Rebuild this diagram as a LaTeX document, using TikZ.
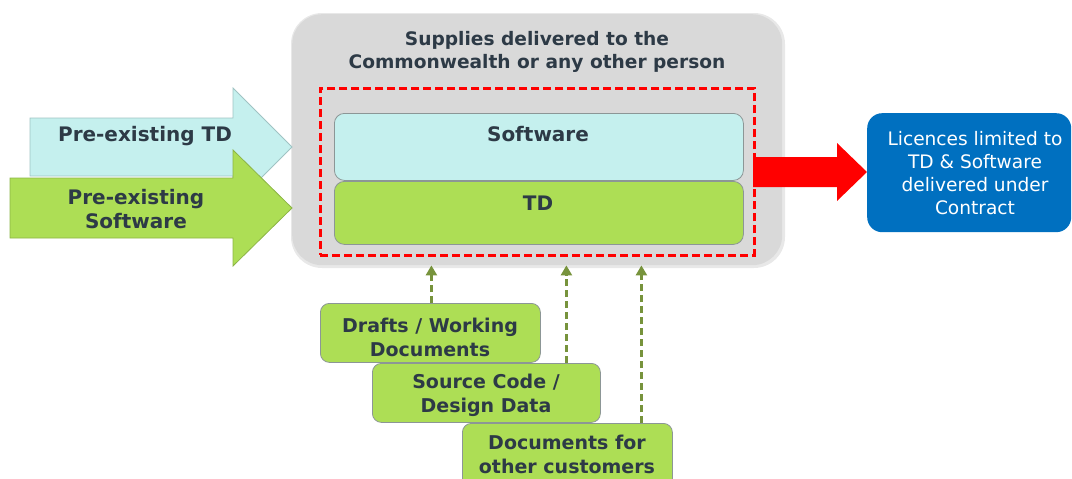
\documentclass[tikz,border=0pt]{standalone}
\usepackage{fontspec}
\setmainfont{DejaVu Sans}
\usetikzlibrary{arrows.meta}

\definecolor{txtdark}{RGB}{45,58,70}
\definecolor{panelgray}{RGB}{217,217,217}
\definecolor{panelshade}{RGB}{232,232,232}
\definecolor{swcyan}{RGB}{197,240,238}
\definecolor{tdgreen}{RGB}{173,222,85}
\definecolor{licblue}{RGB}{0,112,192}
\definecolor{olive}{RGB}{119,147,60}
\definecolor{edgegray}{RGB}{140,150,150}
\definecolor{cyanedge}{RGB}{160,195,195}
\definecolor{greenedge}{RGB}{140,180,70}

\tikzset{
  panel/.style={fill=panelgray, rounded corners=30pt, inner sep=0pt, anchor=north west},
  scopebox/.style={draw=red, line width=2.5pt, dash pattern=on 8pt off 4pt, inner sep=0pt, anchor=north west},
  layer/.style={draw=edgegray, line width=0.8pt, rounded corners=10pt, inner sep=0pt, anchor=north west},
  srcbox/.style={draw=edgegray, line width=0.8pt, fill=tdgreen, rounded corners=9pt, inner sep=0pt, anchor=north west},
  lbl/.style={text=txtdark, font=\bfseries\fontsize{19}{24}\selectfont, align=center, inner sep=0pt},
  biglbl/.style={text=txtdark, font=\bfseries\fontsize{20}{24}\selectfont, align=center, inner sep=0pt},
  lic/.style={fill=licblue, rounded corners=15pt, inner sep=0pt, anchor=north west},
  feed/.style={draw=olive, line width=3pt, dash pattern=on 7pt off 4pt, -{Triangle[length=10pt,width=11pt]}},
}

\begin{document}
\begin{tikzpicture}[x=1pt,y=-1pt]
\useasboundingbox (0,0) rectangle (1072,479);

% grey panel holding the supplies, with a faint edge shade
\fill[panelshade, rounded corners=31pt] (291,13) rectangle (785,268);
\node[panel, minimum width=490pt, minimum height=251pt] (supplies) at (292,14) {};
\node[lbl, font=\bfseries\fontsize{18.6}{23}\selectfont] (suptitle) at (537,51.5)
  {Supplies delivered to the\\Commonwealth or any other person};

% software and TD layers
\node[layer, fill=swcyan, minimum width=409pt, minimum height=67pt] (software) at (334,113) {};
\node[biglbl] (swlbl) at (538,134) {Software};
\node[layer, fill=tdgreen, minimum width=409pt, minimum height=63pt] (td) at (334,181) {};
\node[biglbl] (tdlbl) at (538,203) {TD};

% licence outcome arrow, starting at the delivered boundary
\fill[red] (753,157) -- (837,157) -- (837,143) -- (867,172) -- (837,201) -- (837,187) -- (753,187) -- cycle;

% dashed boundary of what is delivered
\node[scopebox, minimum width=434pt, minimum height=167pt] (delivered) at (319,87) {};

% incoming pre-existing material
\filldraw[fill=swcyan, draw=cyanedge, line width=0.8pt]
  (30,118) -- (233,118) -- (233,88) -- (292,147) -- (233,206) -- (233,176) -- (30,176) -- cycle;
\node[biglbl] (pretd) at (145,136) {Pre-existing TD};
\filldraw[fill=tdgreen, draw=greenedge, line width=0.8pt]
  (10,178) -- (233,178) -- (233,150) -- (292,208) -- (233,266) -- (233,238) -- (10,238) -- cycle;
\node[biglbl] (presw) at (136,209) {Pre-existing\\Software};

% licence box
\node[lic, minimum width=204pt, minimum height=119pt] (licence) at (867,113) {};
\node[text=white, font=\fontsize{18.6}{23}\selectfont, align=center, inner sep=0pt] (liclbl) at (975,173)
  {Licences limited to\\TD \& Software\\delivered under\\Contract};

% other material that is not delivered
\node[srcbox, minimum width=220pt, minimum height=59pt] (drafts) at (320,303) {};
\node[lbl] (draftslbl) at (430,337.5) {Drafts / Working\\Documents};
\node[srcbox, minimum width=228pt, minimum height=59pt] (source) at (372,363) {};
\node[lbl] (sourcelbl) at (486,395) {Source Code /\\Design Data};
\node[srcbox, minimum width=210pt, minimum height=70pt] (others) at (462,423) {};
\node[lbl] (otherslbl) at (567,454) {Documents for\\other customers};

\draw[feed] ([xshift=1pt]drafts.north) -- ([xshift=1pt]drafts.north |- supplies.south);
\draw[feed] ([xshift=80pt]source.north) -- ([xshift=80pt]source.north |- supplies.south);
\draw[feed] ([xshift=74pt]others.north) -- ([xshift=74pt]others.north |- supplies.south);
\end{tikzpicture}
\end{document}
